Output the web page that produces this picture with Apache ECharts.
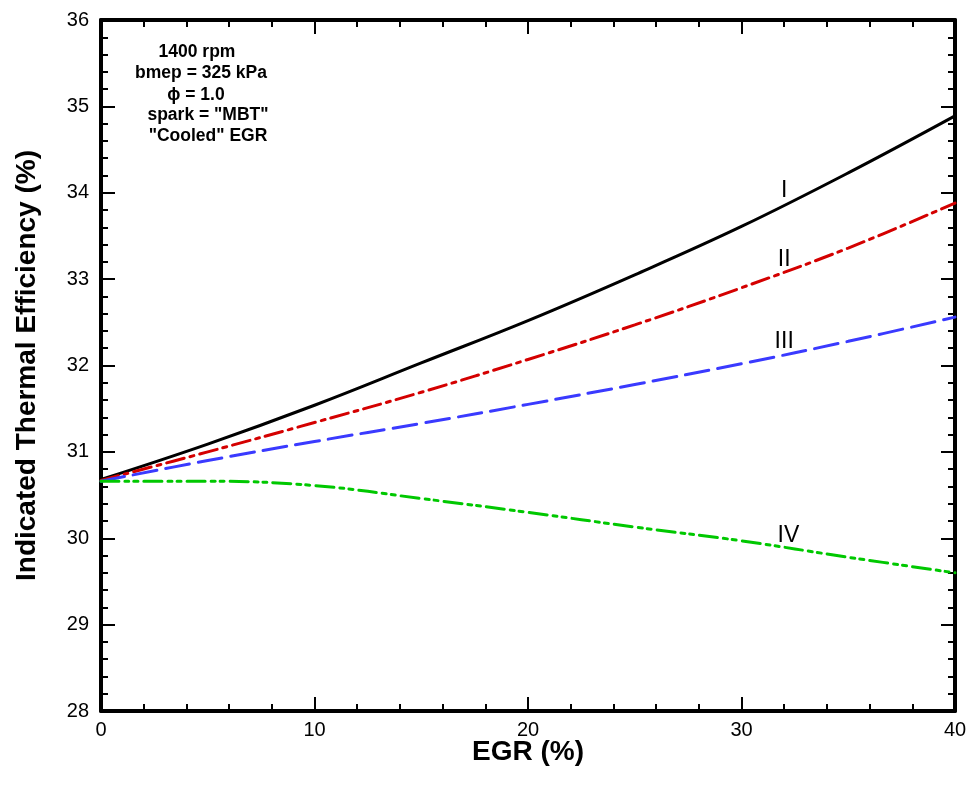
<!DOCTYPE html>
<html>
<head>
<meta charset="utf-8">
<script src="https://cdn.jsdelivr.net/npm/echarts@6/dist/echarts.min.js"></script>
<style>
  html, body { margin: 0; padding: 0; background: #fff; }
  #chart { width: 975px; height: 788px; }
</style>
</head>
<body>
<div id="chart"></div>
<script>
// EGR fraction (%) sampled along each curve
const egr = [0, 5, 10, 15, 20, 25, 30, 35, 40];

// Indicated thermal efficiency (%) for each case
const caseI   = [30.68, 31.09, 31.54, 32.03, 32.52, 33.05, 33.61, 34.23, 34.89];
const caseII  = [30.67, 31.00, 31.34, 31.69, 32.07, 32.47, 32.90, 33.36, 33.88];
const caseIII = [30.66, 30.90, 31.12, 31.33, 31.55, 31.78, 32.02, 32.28, 32.56];
const caseIV  = [30.66, 30.66, 30.61, 30.46, 30.30, 30.13, 29.97, 29.78, 29.60];

// Curve identifiers and where they sit on the plot (EGR %, efficiency %)
const curveNames = ['I', 'II', 'III', 'IV'];
const curveLabelAt = [[32.0, 34.03], [32.0, 33.22], [32.0, 32.28], [32.2, 30.03]];

// Operating-condition note shown in the upper-left corner
const noteLines = ['1400 rpm', 'bmep = 325 kPa', '\u03d5 = 1.0', 'spark = "MBT"', '"Cooled" EGR'];
const noteCenters = [[197, 52], [201, 73], [196, 95], [208, 115], [208, 136]];

const FONT = '"Liberation Sans", Arial, Helvetica, sans-serif';

function pairs(ys) { return egr.map((x, i) => [x, ys[i]]); }

const colors = ['#000000', '#d40000', '#3a3aff', '#00c800'];
const dashes = ['solid', [18, 6, 4, 6], [24, 9], [18, 6, 4, 5, 4, 6]];
const seriesData = [caseI, caseII, caseIII, caseIV];

const frameAxis = {
  axisLine: { show: true, onZero: false, lineStyle: { color: '#000', width: 4 } },
  axisTick: { show: true, inside: true, length: 14, lineStyle: { color: '#000', width: 2 } },
  minorTick: { show: true, splitNumber: 5, length: 7, lineStyle: { color: '#000', width: 2 } },
  splitLine: { show: false },
  minorSplitLine: { show: false }
};

const xBase = Object.assign({ type: 'value', min: 0, max: 40, interval: 10 }, frameAxis);
const yBase = Object.assign({ type: 'value', min: 28, max: 36, interval: 1 }, frameAxis);

const option = {
  animation: false,
  backgroundColor: '#fff',
  textStyle: { fontFamily: FONT },
  grid: { left: 101, right: 20, top: 20, bottom: 77 },
  xAxis: [
    Object.assign({}, xBase, {
      position: 'bottom',
      name: 'EGR (%)', nameLocation: 'middle', nameGap: 27, nameMoveOverlap: false,
      nameTextStyle: { fontFamily: FONT, fontSize: 28, fontWeight: 'bold', color: '#000' },
      axisLabel: { show: true, fontFamily: FONT, fontSize: 20, color: '#000', margin: 9 }
    }),
    Object.assign({}, xBase, { position: 'top', axisLabel: { show: false } })
  ],
  yAxis: [
    Object.assign({}, yBase, {
      position: 'left',
      name: 'Indicated Thermal Efficiency (%)', nameLocation: 'middle', nameGap: 60, nameMoveOverlap: false,
      nameTextStyle: { fontFamily: FONT, fontSize: 28, fontWeight: 'bold', color: '#000' },
      axisLabel: { show: true, fontFamily: FONT, fontSize: 20, color: '#000', margin: 12 }
    }),
    Object.assign({}, yBase, { position: 'right', axisLabel: { show: false } })
  ],
  series: seriesData.map((ys, i) => ({
    type: 'line',
    name: curveNames[i],
    data: pairs(ys),
    smooth: 0.4,
    showSymbol: false,
    symbol: 'none',
    z: 3,
    lineStyle: { color: colors[i], width: 3, type: dashes[i], cap: 'round' },
    markPoint: {
      symbol: 'circle', symbolSize: 0, silent: true,
      label: {
        show: true, position: 'inside', formatter: curveNames[i],
        fontFamily: FONT, fontSize: 23, color: '#000'
      },
      data: [{ coord: curveLabelAt[i] }]
    }
  })),
  graphic: noteLines.map((t, i) => ({
    type: 'text', z: 10,
    x: noteCenters[i][0], y: noteCenters[i][1],
    style: {
      text: t, fill: '#000', align: 'center', verticalAlign: 'middle',
      font: 'bold 17.5px ' + FONT
    }
  }))
};

const chart = echarts.init(document.getElementById('chart'), null, { renderer: 'canvas' });
chart.setOption(option);
</script>
</body>
</html>
